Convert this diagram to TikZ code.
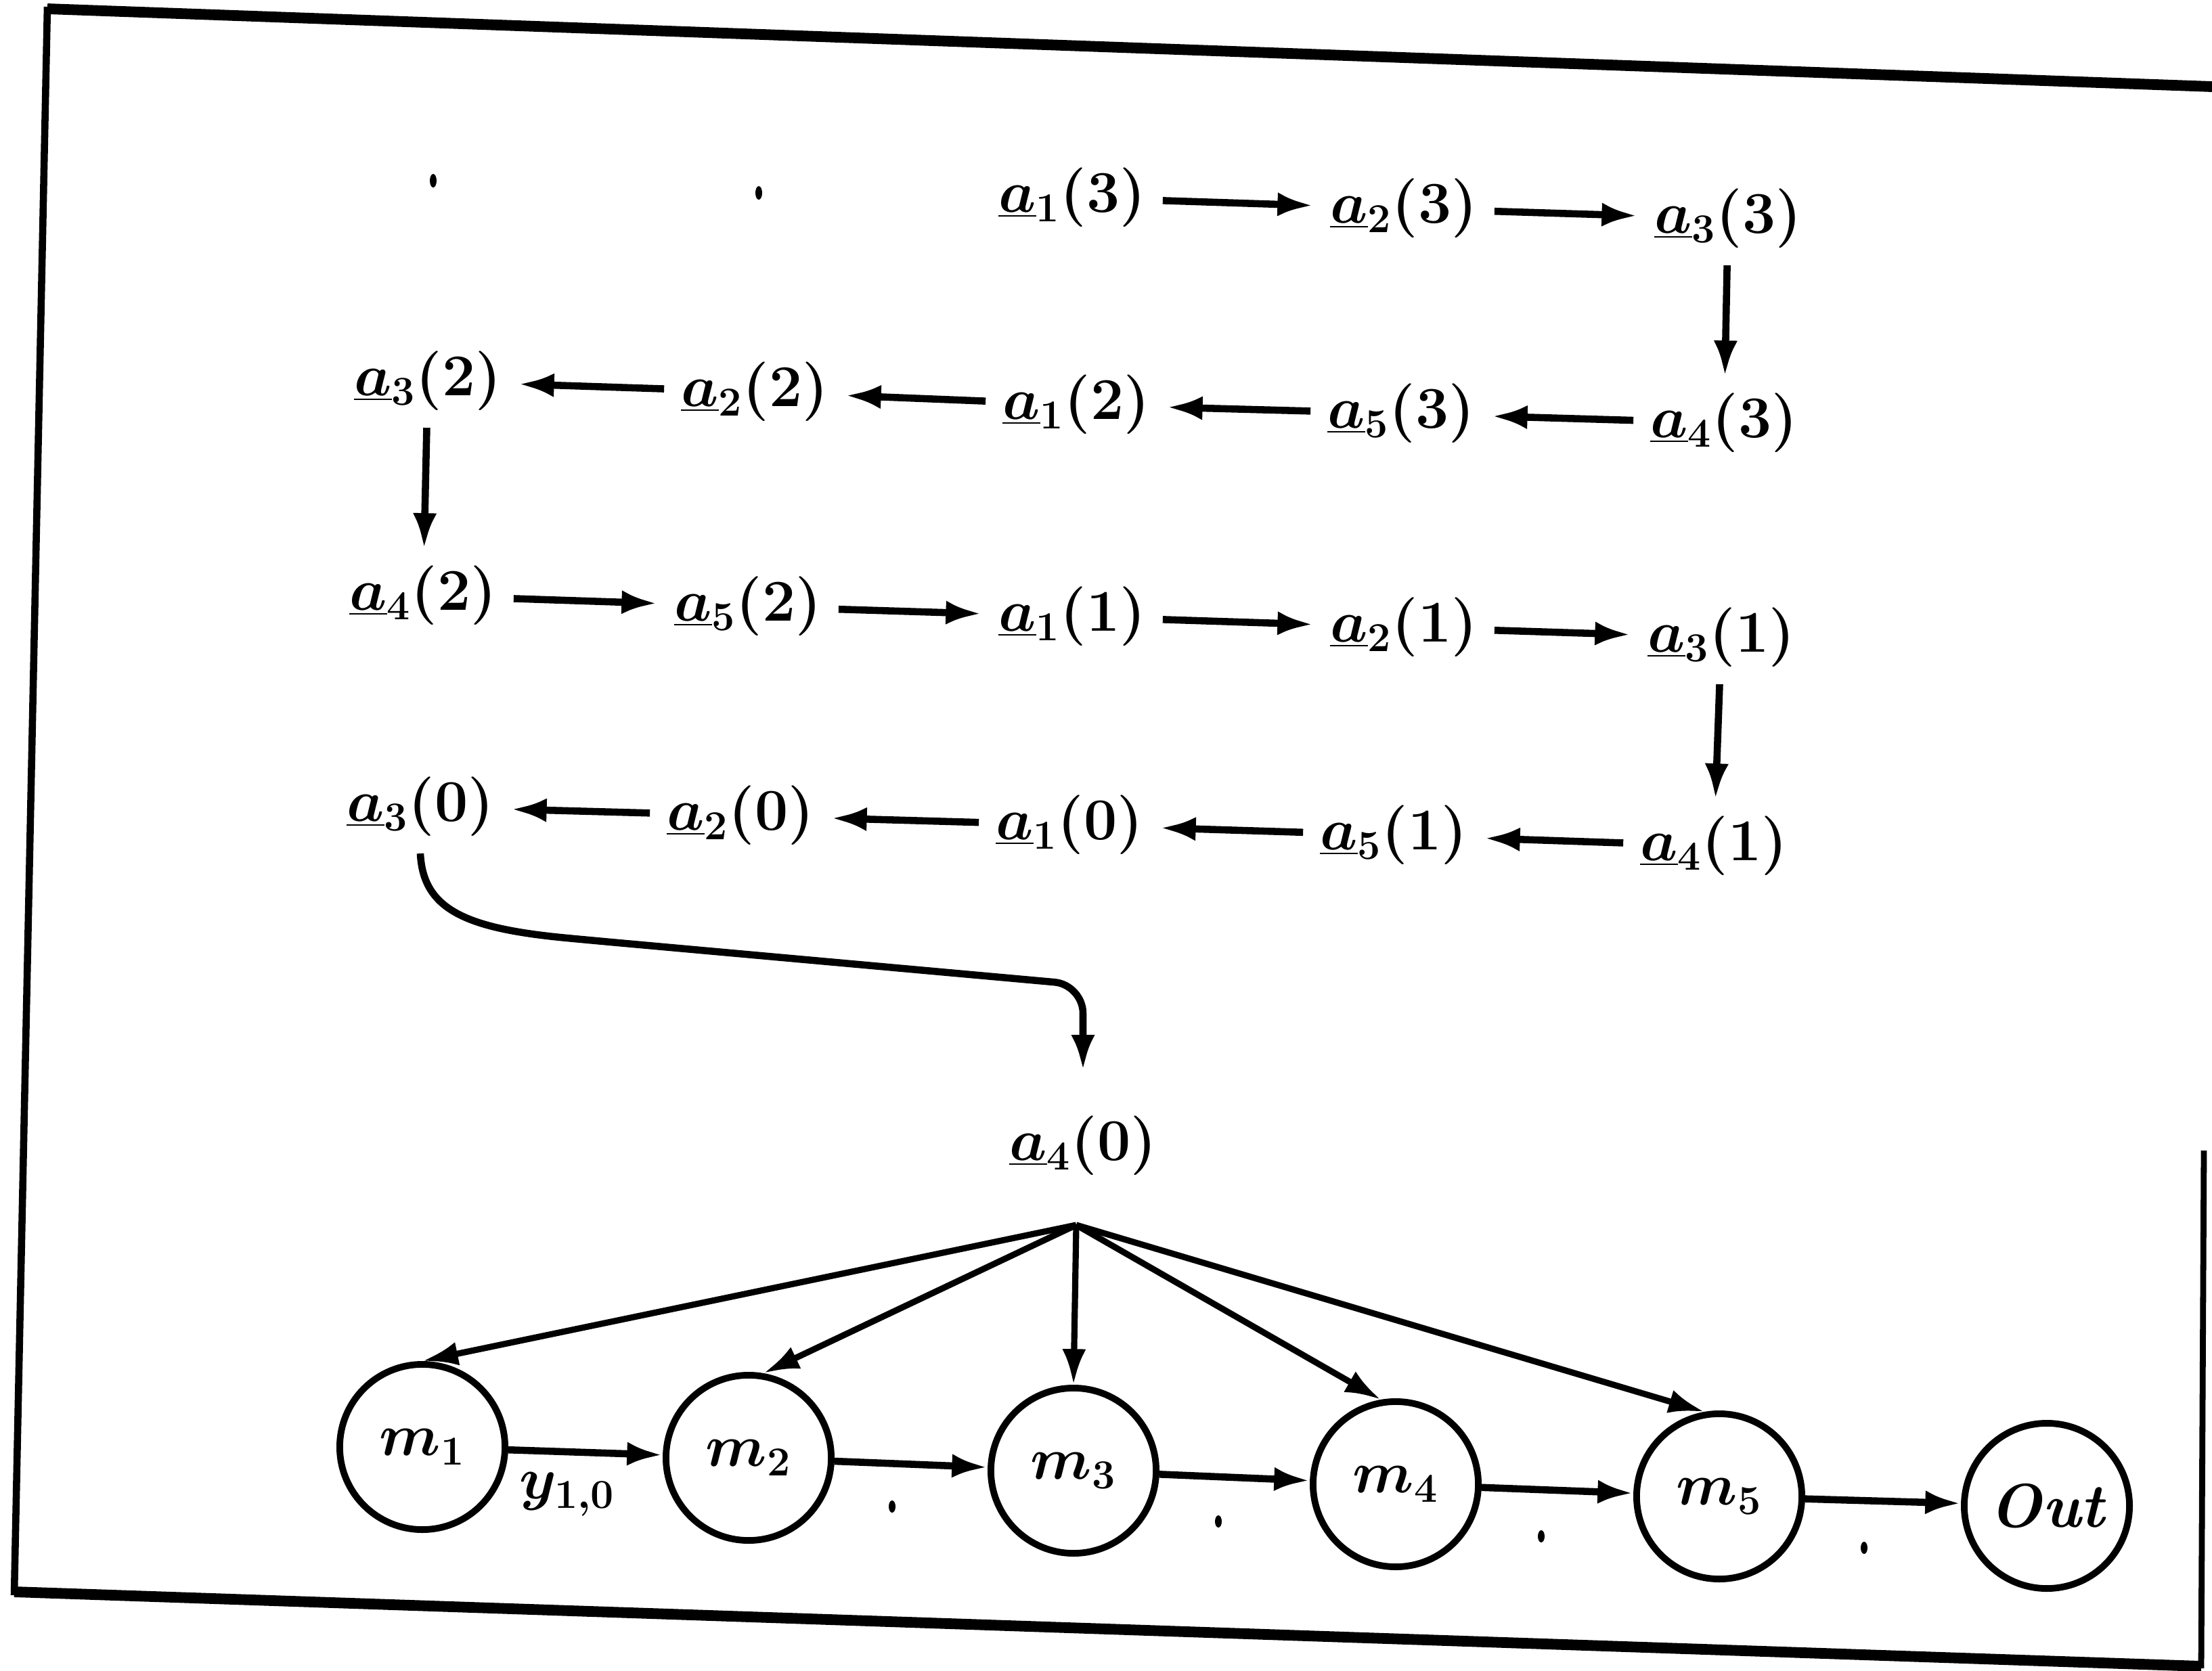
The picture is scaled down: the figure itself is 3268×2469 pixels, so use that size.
\documentclass[tikz,border=0pt]{standalone}
\usetikzlibrary{arrows.meta}
\begin{document}
\begin{tikzpicture}[x=0.01cm,y=-0.01cm,
  lab/.style={font=\fontsize{26}{31}\selectfont\boldmath, inner sep=7pt},
  arr/.style={line width=3pt, -{Latex[length=15pt,width=10pt]}},
  fan/.style={line width=2.6pt, -{Latex[length=15pt,width=10pt]}},
  mc/.style={draw, line width=2.8pt, circle, minimum size=2.44cm, inner sep=0pt, font=\fontsize{26}{31}\selectfont\boldmath},
  dotmark/.style={fill=black}]
\useasboundingbox (0,0) rectangle (3268,2469);
% frame
\draw[line width=4.5pt] (70,13) -- (3268,128);
\draw[line width=3pt] (70,10) -- (21,2357);
\draw[line width=4.5pt] (21,2352) -- (3252,2462);
\draw[line width=2.5pt] (3256,1700) -- (3252,2465);
% stray dots
\fill[dotmark] (640,267) ellipse [x radius=0.05cm, y radius=0.1cm];
\fill[dotmark] (1121,285) ellipse [x radius=0.05cm, y radius=0.1cm];
% row 1
\node[lab] (a13) at (1584,292) {$\underline{a}_1(3)$};
\node[lab] (a23) at (2074,308) {$\underline{a}_2(3)$};
\node[lab] (a33) at (2553,323) {$\underline{a}_3(3)$};
% row 2
\node[lab] (a32) at (632,563) {$\underline{a}_3(2)$};
\node[lab] (a22) at (1115,579) {$\underline{a}_2(2)$};
\node[lab] (a12) at (1590,598) {$\underline{a}_1(2)$};
\node[lab] (a53) at (2070,611) {$\underline{a}_5(3)$};
\node[lab] (a43) at (2547,625) {$\underline{a}_4(3)$};
% row 3
\node[lab] (a42) at (625,880) {$\underline{a}_4(2)$};
\node[lab] (a52) at (1105,896) {$\underline{a}_5(2)$};
\node[lab] (a11) at (1584,911) {$\underline{a}_1(1)$};
\node[lab] (a21) at (2074,927) {$\underline{a}_2(1)$};
\node[lab] (a31) at (2543,942) {$\underline{a}_3(1)$};
% row 4
\node[lab] (a30) at (621,1192) {$\underline{a}_3(0)$};
\node[lab] (a20) at (1094,1205) {$\underline{a}_2(0)$};
\node[lab] (a10) at (1580,1219) {$\underline{a}_1(0)$};
\node[lab] (a51) at (2059,1234) {$\underline{a}_5(1)$};
\node[lab] (a41) at (2532,1250) {$\underline{a}_4(1)$};
% a4(0)
\node[lab] (a40) at (1600,1693) {$\underline{a}_4(0)$};
% arrows rows
\draw[arr] (a13) -- (a23);
\draw[arr] (a23) -- (a33);
\draw[arr] (a33) -- (a43);
\draw[arr] (a43) -- (a53);
\draw[arr] (a53) -- (a12);
\draw[arr] (a12) -- (a22);
\draw[arr] (a22) -- (a32);
\draw[arr] (a32) -- (a42);
\draw[arr] (a42) -- (a52);
\draw[arr] (a52) -- (a11);
\draw[arr] (a11) -- (a21);
\draw[arr] (a21) -- (a31);
\draw[arr] (a31) -- (a41);
\draw[arr] (a41) -- (a51);
\draw[arr] (a51) -- (a10);
\draw[arr] (a10) -- (a20);
\draw[arr] (a20) -- (a30);
% curved connector
\coordinate (c1) at (880,1390);
\coordinate (cb) at (1600,1455);
\draw[arr, rounded corners=12pt, shorten >=12pt] (a30.south) .. controls (625,1345) and (690,1372) .. (c1) -- (cb) -- (a40.north);
% machines
\node[mc] (m1) at (624,2138) {$m_1$};
\node[mc] (m2) at (1106,2154) {$m_2$};
\node[mc] (m3) at (1586,2173) {$m_3$};
\node[mc] (m4) at (2062,2193) {$m_4$};
\node[mc] (m5) at (2540,2211) {$m_5$};
\node[mc] (out) at (3024,2225) {\itshape\bfseries Out};
% fan
\coordinate (apex) at (1590,1810);
\draw[fan] (apex) -- (m1.north);
\draw[fan] (apex) -- (m2.80);
\draw[fan] (apex) -- (m3.north);
\draw[fan] (apex) -- (m4.100);
\draw[fan] (apex) -- (m5.100);
% chain
\draw[arr] (m1) -- (m2);
\draw[arr] (m2) -- (m3);
\draw[arr] (m3) -- (m4);
\draw[arr] (m4) -- (m5);
\draw[arr] (m5) -- (out);
\node[lab] (y10) at (838,2208) {$y_{1,0}$};
\fill[dotmark] (1318,2226) ellipse [x radius=0.05cm, y radius=0.09cm];
\fill[dotmark] (1800,2248) ellipse [x radius=0.05cm, y radius=0.09cm];
\fill[dotmark] (2277,2270) ellipse [x radius=0.05cm, y radius=0.09cm];
\fill[dotmark] (2754,2287) ellipse [x radius=0.05cm, y radius=0.09cm];
\end{tikzpicture}
\end{document}
